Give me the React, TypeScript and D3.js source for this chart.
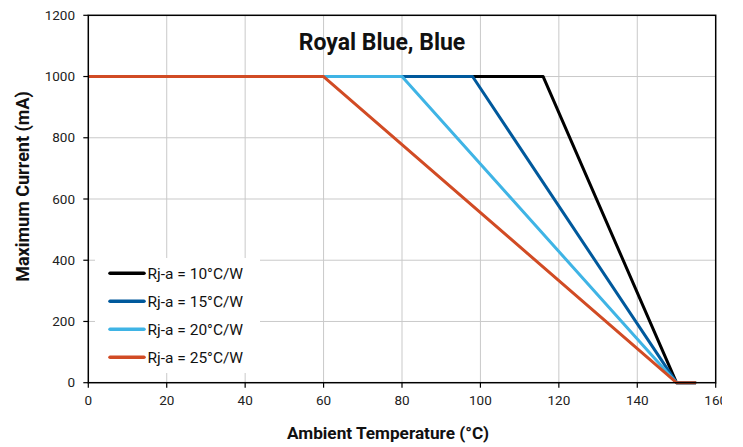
import React from "react";
import * as d3 from "d3";

const title = "Royal Blue, Blue";
const xTitle = "Ambient Temperature (°C)";
const yTitle = "Maximum Current (mA)";
const xTicks = [0, 20, 40, 60, 80, 100, 120, 140, 160];
const yTicks = [0, 200, 400, 600, 800, 1000, 1200];

const seriesNames = ["Rj-a = 10°C/W", "Rj-a = 15°C/W", "Rj-a = 20°C/W", "Rj-a = 25°C/W"];
const seriesColors = ["#000000", "#00599c", "#3fb4e5", "#d14b24"];
const temps10 = [0, 116, 150, 155];
const current10 = [1000, 1000, 0, 0];
const temps15 = [0, 98, 150, 155];
const current15 = [1000, 1000, 0, 0];
const temps20 = [0, 80, 150, 155];
const current20 = [1000, 1000, 0, 0];
const temps25 = [0, 60, 150, 155];
const current25 = [1000, 1000, 0, 0];

const seriesTemps = [temps10, temps15, temps20, temps25];
const seriesCurrents = [current10, current15, current20, current25];

export default function App() {
  const W = 743, H = 447;
  const left = 88.3, right = 715.7, top = 15.3, bottom = 382.7;
  const x = d3.scaleLinear().domain([0, 160]).range([left, right]);
  const y = d3.scaleLinear().domain([0, 1200]).range([bottom, top]);
  const line = d3.line<[number, number]>().x((d) => x(d[0])).y((d) => y(d[1]));
  const font = "Roboto, 'Noto Sans', sans-serif";

  const legX = 95, legY = 258, legW = 165, legH = 115;

  return (
    <svg width={W} height={H} style={{ position: "absolute", left: 0, top: 0, background: "#fff" }} fontFamily={font}>
      <defs>
        <clipPath id="pageclip">
          <rect x={0} y={0} width={722} height={H} />
        </clipPath>
      </defs>
      <rect x={0} y={0} width={W} height={H} fill="#fff" />
      {/* grid */}
      {xTicks.slice(1, -1).map((t) => (
        <line key={"gx" + t} x1={x(t)} x2={x(t)} y1={top} y2={bottom} stroke="#c9c9c9" strokeWidth={1} />
      ))}
      {yTicks.slice(1, -1).map((t) => (
        <line key={"gy" + t} x1={left} x2={right} y1={y(t)} y2={y(t)} stroke="#c9c9c9" strokeWidth={1} />
      ))}
      {/* legend background */}
      <rect x={legX} y={legY} width={legW} height={legH} fill="#fff" />
      {/* series */}
      {seriesTemps.map((ts, i) => (
        <path
          key={"s" + i}
          d={line(ts.map((t, j) => [t, seriesCurrents[i][j]] as [number, number])) || ""}
          fill="none"
          stroke={seriesColors[i]}
          strokeWidth={3}
          strokeLinejoin="round"
        />
      ))}
      {/* frame */}
      <rect x={left} y={top} width={right - left} height={bottom - top} fill="none" stroke="#000" strokeWidth={1.5} />
      {/* ticks */}
      {yTicks.map((t) => (
        <g key={"yt" + t}>
          <line x1={left - 5} x2={left} y1={y(t)} y2={y(t)} stroke="#000" strokeWidth={1.2} />
          <text x={75} y={y(t)} dy="0.35em" textAnchor="end" fontSize={13.5} fill="#222">{t}</text>
        </g>
      ))}
      <g clipPath="url(#pageclip)">
        {xTicks.map((t) => (
          <g key={"xt" + t}>
            <line x1={x(t)} x2={x(t)} y1={bottom} y2={bottom + 5} stroke="#000" strokeWidth={1.2} />
            <text x={x(t)} y={405} textAnchor="middle" fontSize={13.5} fill="#222">{t}</text>
          </g>
        ))}
      </g>
      {/* titles */}
      <text x={382} y={49.5} textAnchor="middle" fontSize={23} fontWeight="bold" fill="#111">{title}</text>
      <text x={388} y={439} textAnchor="middle" fontSize={17.2} fontWeight="bold" fill="#111">{xTitle}</text>
      <text transform={`translate(29,186.5) rotate(-90)`} textAnchor="middle" fontSize={18} fontWeight="bold" fill="#111">{yTitle}</text>
      {/* legend */}
      {seriesNames.map((n, i) => {
        const ly = 273.3 + i * 28;
        return (
          <g key={"lg" + i}>
            <line x1={110} x2={144} y1={ly} y2={ly} stroke={seriesColors[i]} strokeWidth={3.5} strokeLinecap="round" />
            <text x={147.5} y={ly} dy="0.35em" fontSize={15.5} fill="#111">{n}</text>
          </g>
        );
      })}
    </svg>
  );
}
